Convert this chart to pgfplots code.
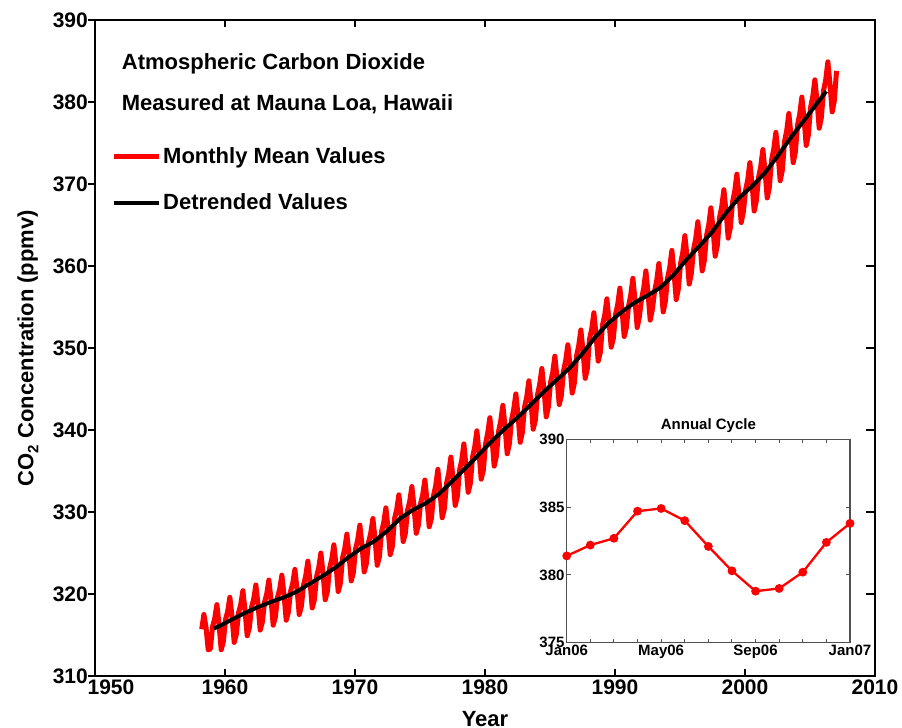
\documentclass[border=0pt]{standalone}
\usepackage{fontspec}
\setmainfont{Liberation Sans}
\usepackage{pgfplots}
\usepackage{pgfplotstable}
\pgfplotsset{compat=1.18}

\definecolor{insetgray}{RGB}{80,80,80}

% Mauna Loa CO2, bimonthly samples (Jan, Mar, May, Jul, Sep, Nov), from Mar 1958 to Jan 2007
\pgfplotstableread[row sep=\\]{
co2\\
315.7\\ 317.5\\ 315.9\\ 313.2\\ 313.3\\
316.0\\ 317.0\\ 318.7\\ 316.3\\ 313.2\\ 314.2\\
316.9\\ 317.9\\ 319.6\\ 317.2\\ 314.1\\ 315.1\\
317.7\\ 318.7\\ 320.4\\ 318.0\\ 314.9\\ 315.9\\
318.4\\ 319.4\\ 321.1\\ 318.7\\ 315.6\\ 316.6\\
319.0\\ 320.0\\ 321.7\\ 319.3\\ 316.2\\ 317.2\\
319.6\\ 320.6\\ 322.3\\ 319.9\\ 316.8\\ 317.8\\
320.3\\ 321.3\\ 323.0\\ 320.6\\ 317.5\\ 318.5\\
321.1\\ 322.2\\ 324.0\\ 321.5\\ 318.3\\ 319.3\\
322.1\\ 323.2\\ 325.0\\ 322.5\\ 319.3\\ 320.3\\
323.1\\ 324.2\\ 326.0\\ 323.5\\ 320.3\\ 321.3\\
324.4\\ 325.5\\ 327.3\\ 324.8\\ 321.6\\ 322.6\\
325.5\\ 326.6\\ 328.4\\ 325.9\\ 322.7\\ 323.7\\
326.3\\ 327.4\\ 329.2\\ 326.7\\ 323.5\\ 324.5\\
327.6\\ 328.7\\ 330.5\\ 328.0\\ 324.8\\ 325.8\\
329.2\\ 330.3\\ 332.1\\ 329.6\\ 326.4\\ 327.4\\
330.2\\ 331.3\\ 333.1\\ 330.6\\ 327.4\\ 328.4\\
331.0\\ 332.1\\ 333.9\\ 331.4\\ 328.2\\ 329.2\\
332.0\\ 333.2\\ 335.2\\ 332.5\\ 329.3\\ 330.4\\
333.5\\ 334.7\\ 336.7\\ 334.0\\ 330.8\\ 331.9\\
335.1\\ 336.3\\ 338.3\\ 335.6\\ 332.4\\ 333.5\\
336.7\\ 337.9\\ 339.9\\ 337.2\\ 334.0\\ 335.1\\
338.3\\ 339.6\\ 341.5\\ 338.9\\ 335.6\\ 336.8\\
339.8\\ 341.1\\ 343.0\\ 340.4\\ 337.1\\ 338.3\\
341.2\\ 342.5\\ 344.4\\ 341.8\\ 338.5\\ 339.7\\
342.8\\ 344.0\\ 346.0\\ 343.3\\ 340.1\\ 341.2\\
344.3\\ 345.6\\ 347.5\\ 344.9\\ 341.6\\ 342.8\\
345.8\\ 347.0\\ 349.0\\ 346.3\\ 343.1\\ 344.2\\
347.2\\ 348.5\\ 350.4\\ 347.8\\ 344.5\\ 345.7\\
349.0\\ 350.3\\ 352.2\\ 349.6\\ 346.3\\ 347.5\\
351.1\\ 352.3\\ 354.3\\ 351.6\\ 348.4\\ 349.5\\
352.8\\ 354.0\\ 356.0\\ 353.3\\ 350.1\\ 351.2\\
354.1\\ 355.3\\ 357.3\\ 354.6\\ 351.4\\ 352.5\\
355.1\\ 356.4\\ 358.5\\ 355.8\\ 352.5\\ 353.8\\
356.0\\ 357.3\\ 359.4\\ 356.7\\ 353.4\\ 354.7\\
356.9\\ 358.2\\ 360.3\\ 357.7\\ 354.4\\ 355.7\\
358.5\\ 359.8\\ 361.9\\ 359.2\\ 355.9\\ 357.2\\
360.3\\ 361.6\\ 363.7\\ 361.1\\ 357.8\\ 359.1\\
362.0\\ 363.3\\ 365.4\\ 362.7\\ 359.4\\ 360.7\\
363.7\\ 365.0\\ 367.1\\ 364.5\\ 361.2\\ 362.5\\
365.9\\ 367.2\\ 369.3\\ 366.7\\ 363.4\\ 364.7\\
367.8\\ 369.1\\ 371.2\\ 368.6\\ 365.3\\ 366.6\\
369.2\\ 370.5\\ 372.6\\ 370.0\\ 366.7\\ 368.0\\
370.8\\ 372.1\\ 374.2\\ 371.6\\ 368.3\\ 369.6\\
372.9\\ 374.2\\ 376.3\\ 373.7\\ 370.4\\ 371.7\\
375.2\\ 376.5\\ 378.6\\ 375.9\\ 372.6\\ 373.9\\
377.2\\ 378.5\\ 380.6\\ 378.0\\ 374.7\\ 376.0\\
379.3\\ 380.6\\ 382.7\\ 380.1\\ 376.8\\ 378.1\\
381.4\\ 382.7\\ 384.9\\ 382.1\\ 378.8\\ 380.2\\
383.8\\
}\monthly

% Deseasonalised values (running annual mean)
\pgfplotstableread{
t        co2
1959.15  315.80
1959.5   316.04
1960.5   316.86
1961.5   317.66
1962.5   318.38
1963.5   319.01
1964.5   319.57
1965.5   320.27
1966.5   321.24
1967.5   322.19
1968.5   323.22
1969.5   324.49
1970.5   325.58
1971.5   326.44
1972.5   327.73
1973.5   329.25
1974.5   330.29
1975.5   331.11
1976.5   332.26
1977.5   333.78
1978.5   335.37
1979.5   336.96
1980.5   338.61
1981.5   340.11
1982.5   341.52
1983.5   343.05
1984.5   344.62
1985.5   346.08
1986.5   347.54
1987.5   349.34
1988.5   351.36
1989.5   353.05
1990.5   354.38
1991.5   355.52
1992.5   356.40
1993.5   357.37
1994.5   358.90
1995.5   360.77
1996.5   362.44
1997.5   364.19
1998.5   366.38
1999.5   368.25
2000.5   369.66
2001.5   371.28
2002.5   373.38
2003.5   375.60
2004.5   377.66
2005.5   379.76
2006.25  381.30
}\trend

% Monthly values Jan 2006 - Jan 2007
\pgfplotstableread{
m  co2
0  381.4
1  382.2
2  382.7
3  384.7
4  384.9
5  384.0
6  382.1
7  380.3
8  378.8
9  379.0
10 380.2
11 382.4
12 383.8
}\cycle

\begin{document}
\begin{tikzpicture}
\useasboundingbox (-95pt,-52pt) rectangle (807pt,676pt);

\begin{axis}[
  at={(0pt,0pt)}, anchor=south west,
  scale only axis, width=780pt, height=656pt,
  xmin=1950, xmax=2010, ymin=310, ymax=390,
  xtick={1950,1960,...,2010}, ytick={310,320,...,390},
  xticklabels={\hspace*{32pt}1950,1960,1970,1980,1990,2000,2010},
  ytick pos=left, ytick align=outside, xtick align=inside,
  major tick length=7pt,
  axis line style={line width=2.5pt, black},
  tick style={line width=2.5pt, black},
  /pgf/number format/assume math mode=true,
  /pgf/number format/1000 sep={},
  tick label style={font=\fontsize{21}{24}\selectfont\bfseries},
  yticklabel style={inner xsep=0pt},
  label style={font=\fontsize{22}{26}\selectfont\bfseries},
  xlabel={Year},
  xlabel style={at={(axis description cs:0.5,-0.0655)}, anchor=center},
  ylabel={CO\raisebox{-5pt}{\fontsize{15}{15}\selectfont 2} Concentration (ppmv)},
  ylabel style={at={(axis description cs:-0.0859,0.5)}, anchor=center},
  legend cell align=left,
  legend image code/.code={\draw[#1] (0pt,0pt) -- (45pt,0pt);},
  legend style={draw=none, fill=none, inner sep=0pt,
    at={(0.0205,0.8093)}, anchor=north west,
    row sep=25.2pt, nodes={inner sep=2pt},
    font=\fontsize{22}{26}\selectfont\bfseries},
]
\addplot[red, line width=5pt, line join=round]
  table[x expr={1958.2083+\coordindex/6}, y=co2]{\monthly};
\addlegendentry{Monthly Mean Values}
\addplot[black, line width=4pt, line join=round]
  table[x=t, y=co2]{\trend};
\addlegendentry{Detrended Values}

\node[anchor=base west, inner sep=0pt, font=\fontsize{22}{26}\selectfont\bfseries]
  at (rel axis cs:0.0342,0.9253) {Atmospheric Carbon Dioxide};
\node[anchor=base west, inner sep=0pt, font=\fontsize{22}{26}\selectfont\bfseries]
  at (rel axis cs:0.0342,0.8628) {Measured at Mauna Loa, Hawaii};
\end{axis}

% right-hand ticks pointing inwards
\begin{axis}[
  at={(0pt,0pt)}, anchor=south west,
  scale only axis, width=780pt, height=656pt,
  xmin=1950, xmax=2010, ymin=310, ymax=390,
  hide x axis, axis y line*=right,
  y axis line style={draw=none},
  ytick={310,320,...,390}, yticklabels={},
  ytick align=inside, major tick length=9pt,
  tick style={line width=2.5pt, black},
]
\end{axis}

% inset: annual cycle
\begin{axis}[
  at={(471.7pt,33.3pt)}, anchor=south west,
  scale only axis, width=283.3pt, height=203.4pt,
  xmin=0, xmax=12, ymin=375, ymax=390,
  xtick={0,1,...,12},
  xticklabels={Jan06,,,,May06,,,,Sep06,,,,Jan07},
  ytick={375,380,385,390},
  tick align=inside, major tick length=4pt,
  axis line style={line width=1.2pt, insetgray},
  tick style={line width=1pt, insetgray},
  axis background/.style={fill=white},
  /pgf/number format/assume math mode=true,
  tick label style={font=\fontsize{15}{17}\selectfont\bfseries, black},
  xticklabel style={inner sep=2pt},
  yticklabel style={inner sep=2pt},
  title={Annual Cycle},
  title style={font=\fontsize{15}{17}\selectfont\bfseries, yshift=-3pt},
]
\addplot[red, line width=2.3pt, mark=*, mark size=3.2pt, mark options={fill=red, draw=red}]
  table[x=m, y=co2]{\cycle};
\end{axis}
\end{tikzpicture}
\end{document}
